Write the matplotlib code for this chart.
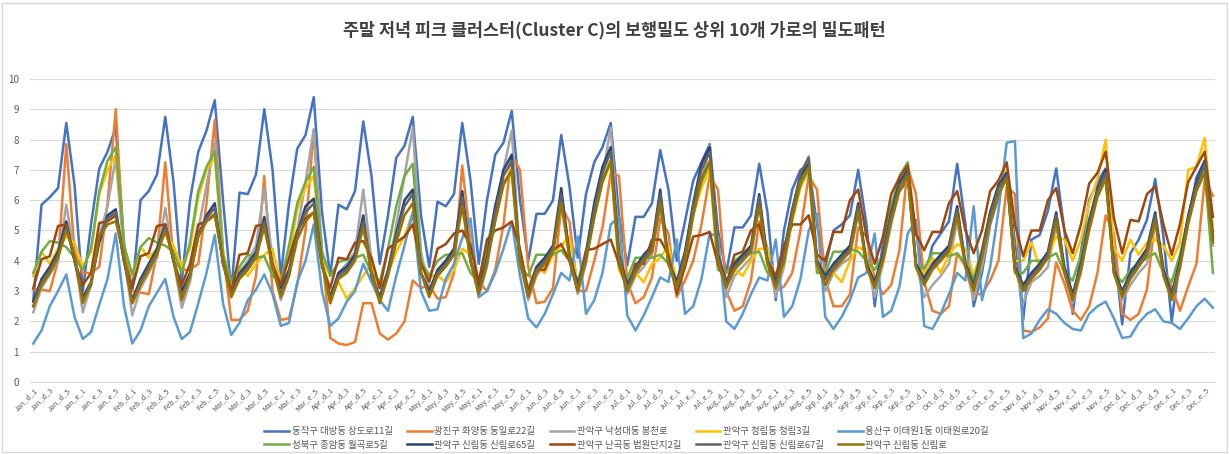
import matplotlib.pyplot as plt
from matplotlib.patches import Rectangle

plt.rcParams['font.family'] = ['Noto Sans CJK KR', 'DejaVu Sans']

# x categories: month _ d/e _ 1..6
months = ['Jan', 'Feb', 'Mar', 'Apr', 'May', 'Jun', 'Jul', 'Aug', 'Sep', 'Oct', 'Nov', 'Dec']
slots = ['d_1', 'd_2', 'd_3', 'd_4', 'd_5', 'd_6', 'e_1', 'e_2', 'e_3', 'e_4', 'e_5', 'e_6']
categories = [m + '_' + s for m in months for s in slots]

names = ['동작구 대방동 상도로11길', '광진구 화양동 동일로22길', '관악구 낙성대동 봉천로',
         '관악구 청림동 청림3길', '용산구 이태원1동 이태원로20길', '성북구 종암동 월곡로5길',
         '관악구 신림동 신림로65길', '관악구 난곡동 법원단지2길', '관악구 신림동 신림로67길',
         '관악구 신림동 신림로']
colors = ['#4472C4', '#ED7D31', '#A5A5A5', '#FFC000', '#5B9BD5',
          '#70AD47', '#264478', '#9E480E', '#636363', '#997300']

# one row per month (d_1..d_6, e_1..e_6)
sangdo = [
    2.7, 5.85, 6.1, 6.4, 8.55, 6.5, 3.0, 5.2, 7.05, 7.6, 8.4, 4.6,
    3.0, 6.0, 6.3, 6.85, 8.75, 6.6, 3.3, 6.0, 7.6, 8.3, 9.3, 6.0,
    3.0, 6.25, 6.2, 6.85, 9.0, 7.0, 3.5, 5.9, 7.7, 8.15, 9.4, 5.6,
    3.5, 5.85, 5.7, 6.3, 8.6, 6.8, 3.9, 5.5, 7.4, 7.8, 8.75, 5.5,
    3.8, 5.95, 5.8, 6.2, 8.55, 6.65, 3.9, 6.0, 7.5, 7.9, 8.95, 6.0,
    4.0, 5.55, 5.55, 6.0, 8.15, 6.45, 4.1, 6.2, 7.25, 7.75, 8.55, 5.5,
    3.85, 5.45, 5.45, 5.9, 7.65, 6.35, 4.0, 5.3, 6.65, 7.25, 7.85, 5.0,
    3.6, 5.1, 5.1, 5.5, 7.2, 5.6, 2.7, 5.0, 6.35, 7.0, 7.15, 5.2,
    3.8, 5.0, 5.2, 5.5, 7.0, 5.2, 2.5, 4.6, 5.8, 6.3, 6.65, 5.0,
    3.4, 4.5, 4.9, 5.3, 7.2, 5.2, 2.5, 3.6, 5.2, 6.1, 6.9, 4.6,
    2.05, 4.7, 4.85, 5.65, 7.05, 5.0, 2.25, 4.3, 6.0, 6.6, 7.05, 4.5,
    1.9, 4.25, 4.7, 5.35, 6.7, 4.8, 2.0, 4.0, 5.35, 6.75, 7.3, 5.0,
]
dongil = [
    3.05, 3.05, 3.0, 4.0, 7.85, 4.3, 3.6, 3.6, 3.8, 5.9, 9.0, 4.3,
    3.0, 2.95, 2.9, 4.25, 7.25, 4.0, 3.7, 3.7, 3.9, 5.9, 8.65, 4.3,
    2.05, 2.05, 2.35, 3.5, 6.8, 3.0, 2.05, 2.1, 3.2, 5.0, 8.3, 4.3,
    1.45, 1.27, 1.22, 1.32, 2.6, 2.6, 1.6, 1.4, 1.6, 2.0, 3.35, 3.1,
    3.2, 2.75, 2.8, 3.6, 7.15, 4.6, 3.3, 3.0, 3.7, 5.2, 7.5, 7.0,
    3.8, 2.6, 2.65, 3.1, 5.8, 5.3, 3.0, 3.0, 4.0, 5.1, 6.9, 6.8,
    3.3, 2.6, 2.8, 3.45, 5.4, 4.9, 2.8, 3.35, 4.0, 5.2, 6.8, 6.35,
    3.0, 2.35, 2.5, 3.35, 5.3, 4.4, 3.0, 3.15, 3.6, 5.0, 6.8, 6.35,
    3.4, 2.5, 2.5, 2.9, 5.1, 4.8, 3.4, 2.9, 3.2, 4.35, 7.1, 6.2,
    3.3, 2.35, 2.25, 2.5, 4.25, 3.8, 2.9, 2.9, 3.35, 4.0, 6.45, 6.2,
    1.7, 1.65, 1.8, 2.1, 3.95, 3.25, 2.35, 2.05, 2.5, 3.6, 5.5, 4.9,
    2.25, 2.05, 2.25, 3.05, 5.35, 3.7, 3.15, 2.35, 3.15, 3.9, 6.65, 6.15,
]
bongcheon = [
    2.3, 3.1, 3.55, 4.0, 5.85, 4.2, 2.3, 3.2, 4.8, 5.8, 7.4, 4.2,
    2.2, 3.1, 3.6, 4.1, 5.75, 4.0, 2.45, 3.3, 5.0, 6.5, 7.9, 4.3,
    2.8, 3.6, 4.0, 4.5, 6.4, 4.0, 2.7, 3.5, 5.0, 6.6, 8.35, 4.2,
    2.6, 3.6, 3.9, 4.3, 6.35, 4.0, 2.7, 3.6, 5.2, 6.8, 8.4, 4.3,
    2.9, 3.6, 4.0, 4.4, 6.2, 4.0, 2.8, 3.8, 5.7, 7.0, 8.3, 4.0,
    2.7, 3.5, 3.9, 4.3, 6.0, 4.2, 2.9, 3.9, 5.6, 6.8, 8.4, 4.5,
    2.9, 3.5, 3.8, 4.2, 5.8, 4.0, 3.0, 3.8, 5.5, 6.6, 7.8, 4.3,
    2.8, 3.5, 3.8, 4.1, 5.9, 4.2, 2.8, 3.8, 5.4, 6.7, 7.45, 4.1,
    3.0, 3.6, 3.9, 4.1, 5.6, 4.0, 2.8, 3.9, 5.2, 6.4, 7.0, 3.9,
    2.8, 3.2, 3.5, 3.9, 5.3, 3.8, 2.7, 3.8, 5.3, 6.2, 6.8, 3.9,
    2.6, 3.3, 3.5, 3.8, 5.2, 3.6, 2.6, 3.6, 5.2, 6.2, 6.8, 3.6,
    2.7, 3.2, 3.6, 3.9, 5.3, 3.8, 2.8, 3.7, 5.3, 6.4, 7.0, 4.5,
]
cheongrim = [
    3.5, 4.3, 3.9, 4.4, 4.8, 4.6, 3.8, 4.3, 6.2, 7.0, 7.5, 4.5,
    3.5, 4.45, 4.1, 4.4, 4.9, 4.5, 3.8, 4.4, 6.1, 7.0, 7.4, 4.3,
    3.2, 3.8, 3.5, 3.9, 4.2, 4.4, 3.3, 4.1, 5.7, 6.4, 6.8, 4.1,
    3.0, 3.3, 2.75, 3.1, 3.5, 3.9, 3.1, 3.6, 4.3, 4.8, 5.6, 4.0,
    3.5, 3.5, 3.3, 3.7, 4.4, 4.2, 3.3, 4.0, 5.6, 6.5, 7.1, 3.8,
    3.1, 3.8, 3.6, 4.2, 4.5, 4.8, 3.2, 4.0, 5.6, 6.6, 7.2, 3.7,
    3.2, 3.6, 3.3, 3.9, 4.1, 4.5, 3.3, 3.9, 5.5, 6.4, 7.0, 3.8,
    3.3, 3.7, 3.5, 4.0, 4.4, 4.4, 3.2, 3.9, 5.3, 6.4, 7.0, 3.8,
    3.45, 3.6, 3.3, 4.0, 4.45, 4.3, 3.2, 4.0, 5.4, 6.4, 7.0, 3.9,
    3.6, 4.1, 3.6, 4.2, 4.55, 4.4, 3.5, 4.4, 5.6, 6.4, 7.0, 4.0,
    4.0, 4.6, 3.8, 4.2, 4.8, 4.7, 4.0, 4.7, 5.9, 6.7, 8.0, 4.4,
    4.0, 4.7, 4.2, 4.6, 4.7, 4.5, 4.0, 4.6, 7.0, 7.1, 8.05, 5.0,
]
itaewon = [
    1.27, 1.7, 2.5, 3.0, 3.55, 2.15, 1.42, 1.65, 2.55, 3.4, 4.9, 2.5,
    1.27, 1.7, 2.5, 2.95, 3.4, 2.15, 1.42, 1.65, 2.6, 3.6, 4.85, 2.6,
    1.55, 1.95, 2.7, 3.05, 3.55, 2.9, 1.85, 1.95, 3.3, 4.0, 5.2, 3.0,
    1.85, 2.1, 2.65, 3.0, 3.9, 3.3, 2.7, 2.35, 3.5, 4.5, 5.6, 3.0,
    2.35, 2.4, 3.4, 3.9, 4.75, 5.4, 2.8, 3.0, 3.6, 4.4, 5.3, 3.5,
    2.1, 1.8, 2.25, 2.9, 3.6, 3.35, 4.8, 2.25, 2.7, 3.6, 5.2, 5.45,
    2.2, 1.7, 2.2, 2.8, 3.45, 3.3, 4.7, 2.25, 2.5, 3.4, 4.9, 4.8,
    2.0, 1.75, 2.25, 2.9, 3.45, 3.35, 4.7, 2.15, 2.5, 3.4, 5.0, 5.55,
    2.15, 1.75, 2.15, 2.7, 3.45, 3.6, 4.9, 2.15, 2.35, 3.15, 4.9, 5.35,
    1.85, 1.75, 2.25, 2.9, 3.6, 3.35, 5.8, 2.7, 3.8, 5.65, 7.9, 7.95,
    1.45, 1.6, 2.05, 2.4, 2.25, 1.95, 1.75, 1.7, 2.25, 2.5, 2.65, 2.1,
    1.45, 1.5, 1.95, 2.25, 2.4, 2.0, 1.95, 1.75, 2.1, 2.5, 2.75, 2.45,
]
wolgok = [
    3.6, 4.3, 4.65, 4.6, 4.45, 4.1, 3.7, 4.4, 6.3, 7.3, 7.75, 4.5,
    3.55, 4.45, 4.75, 4.6, 4.5, 4.3, 3.6, 4.6, 6.3, 7.1, 7.6, 4.2,
    3.3, 3.8, 4.2, 4.1, 4.15, 3.5, 3.3, 4.5, 5.9, 6.6, 7.1, 4.3,
    3.5, 3.95, 4.05, 4.1, 4.2, 3.6, 3.3, 4.4, 5.8, 6.8, 7.2, 4.0,
    3.5, 4.0, 4.2, 4.2, 4.25, 3.6, 3.3, 4.4, 5.8, 6.6, 6.9, 3.8,
    3.5, 4.2, 4.2, 4.2, 4.35, 4.0, 3.3, 4.3, 5.8, 6.7, 7.3, 3.8,
    3.4, 4.1, 4.1, 4.1, 4.2, 3.9, 3.3, 4.2, 5.7, 6.6, 7.2, 3.7,
    3.6, 4.0, 4.2, 4.25, 4.3, 3.6, 3.4, 3.9, 5.5, 6.5, 7.0, 3.6,
    3.6, 4.3, 4.3, 4.4, 4.3, 4.0, 3.7, 4.2, 5.8, 6.8, 7.25, 3.8,
    3.75, 4.25, 4.25, 4.15, 4.25, 3.9, 3.4, 4.3, 5.6, 6.5, 6.9, 3.6,
    3.6, 4.0, 4.0, 4.1, 4.25, 3.6, 3.35, 4.2, 5.4, 6.3, 6.8, 3.6,
    3.3, 3.7, 3.9, 4.1, 4.25, 3.6, 3.3, 4.2, 5.4, 6.4, 7.0, 3.6,
]
sillim65 = [
    2.65, 3.4, 3.8, 4.3, 5.3, 4.0, 2.8, 3.3, 4.6, 5.5, 5.7, 4.0,
    2.7, 3.4, 3.9, 4.4, 5.2, 4.0, 3.0, 3.6, 4.8, 5.5, 5.9, 3.9,
    3.0, 3.6, 3.9, 4.3, 5.45, 3.8, 3.1, 3.7, 4.9, 5.8, 6.05, 3.9,
    2.8, 3.6, 3.8, 4.2, 5.5, 3.5, 2.8, 3.7, 4.9, 6.0, 6.35, 3.6,
    3.0, 3.7, 4.0, 4.4, 6.3, 4.0, 3.1, 4.1, 5.8, 7.0, 7.5, 4.0,
    3.0, 3.8, 4.1, 4.5, 6.4, 4.2, 3.2, 4.2, 5.9, 7.1, 7.75, 4.2,
    3.2, 3.8, 4.2, 4.5, 6.35, 4.0, 3.3, 4.3, 5.9, 7.2, 7.75, 4.2,
    3.3, 3.9, 4.2, 4.5, 6.2, 4.0, 3.3, 4.3, 5.7, 6.8, 7.2, 4.0,
    3.5, 3.9, 4.2, 4.5, 5.9, 3.9, 3.3, 4.2, 5.6, 6.6, 7.0, 3.9,
    3.4, 3.9, 4.2, 4.5, 5.8, 3.9, 3.2, 4.3, 5.6, 6.5, 6.9, 3.8,
    3.2, 3.6, 3.9, 4.3, 5.6, 3.8, 2.9, 3.9, 5.3, 6.4, 7.0, 3.7,
    3.0, 3.6, 4.0, 4.4, 5.6, 3.7, 2.9, 4.0, 5.5, 6.6, 7.3, 4.8,
]
beobwon = [
    3.1, 4.05, 4.15, 5.15, 5.2, 4.0, 3.2, 3.6, 5.25, 5.3, 5.5, 4.0,
    3.1, 4.15, 4.25, 5.15, 5.2, 4.0, 3.2, 3.9, 5.2, 5.3, 5.55, 4.0,
    3.0, 4.2, 4.25, 5.15, 5.2, 3.9, 3.2, 4.1, 5.0, 5.4, 5.6, 3.8,
    3.1, 4.1, 4.05, 4.6, 4.65, 4.1, 3.1, 4.4, 4.6, 4.8, 5.2, 3.9,
    3.3, 4.4, 4.55, 4.9, 5.0, 4.5, 3.3, 4.7, 5.0, 5.1, 5.3, 4.4,
    3.0, 3.7, 3.7, 4.35, 4.55, 4.0, 3.0, 4.35, 4.4, 4.55, 4.7, 3.9,
    3.0, 3.9, 3.9, 4.7, 4.7, 4.2, 2.9, 3.8, 4.8, 4.85, 4.95, 3.9,
    3.2, 4.2, 4.3, 5.0, 5.2, 4.0, 3.5, 4.5, 5.2, 5.2, 5.5, 4.2,
    4.0, 4.95, 4.95, 6.0, 6.35, 4.8, 3.9, 4.8, 6.2, 6.75, 7.15, 4.9,
    4.35, 4.95, 4.95, 5.9, 6.3, 5.0, 4.25, 5.0, 6.3, 6.65, 7.25, 5.2,
    4.15, 5.0, 5.0, 6.0, 6.4, 5.0, 4.25, 5.2, 6.55, 6.9, 7.6, 5.4,
    4.25, 5.35, 5.3, 6.2, 6.45, 5.2, 4.2, 5.2, 6.6, 7.1, 7.6, 5.45,
]
sillim67 = [
    2.5, 3.3, 3.7, 4.2, 5.1, 4.1, 2.7, 3.2, 4.8, 5.4, 5.6, 4.0,
    2.6, 3.3, 3.8, 4.3, 5.1, 4.0, 2.8, 3.5, 4.9, 5.4, 5.75, 3.9,
    2.9, 3.5, 3.8, 4.2, 5.3, 3.8, 2.9, 3.6, 4.9, 5.6, 5.9, 3.9,
    2.7, 3.5, 3.7, 4.1, 5.3, 3.6, 2.7, 3.6, 4.8, 5.8, 6.2, 3.6,
    2.9, 3.6, 3.9, 4.3, 6.1, 4.0, 3.0, 4.0, 5.6, 6.8, 7.3, 4.0,
    2.9, 3.7, 4.0, 4.4, 6.2, 4.1, 3.1, 4.1, 5.7, 6.9, 7.6, 4.1,
    3.1, 3.7, 4.1, 4.4, 6.2, 3.9, 3.2, 4.2, 5.8, 7.0, 7.6, 4.1,
    3.2, 3.8, 4.1, 4.4, 6.1, 3.9, 3.2, 4.2, 5.6, 6.9, 7.4, 3.9,
    3.4, 3.8, 4.1, 4.4, 5.8, 3.8, 3.2, 4.1, 5.5, 6.5, 6.9, 3.8,
    3.3, 3.8, 4.1, 4.4, 5.7, 3.8, 3.1, 4.2, 5.5, 6.4, 6.8, 3.7,
    3.1, 3.5, 3.8, 4.2, 5.5, 3.7, 2.8, 3.8, 5.2, 6.3, 6.9, 3.6,
    2.9, 3.5, 3.9, 4.3, 5.5, 3.6, 2.8, 3.9, 5.4, 6.5, 7.2, 4.7,
]
sillimro = [
    2.5, 3.2, 3.6, 4.1, 5.0, 4.2, 2.6, 3.3, 4.8, 5.2, 5.3, 4.2,
    2.6, 3.2, 3.7, 4.2, 5.0, 4.1, 2.7, 3.5, 4.8, 5.3, 5.5, 4.0,
    2.8, 3.4, 3.7, 4.1, 5.1, 3.8, 2.8, 3.5, 4.7, 5.3, 5.6, 3.9,
    2.6, 3.4, 3.6, 4.0, 5.1, 3.6, 2.6, 3.5, 4.6, 5.5, 5.9, 3.6,
    2.8, 3.5, 3.8, 4.2, 5.8, 4.0, 2.9, 3.9, 5.3, 6.5, 7.0, 4.0,
    2.8, 3.6, 3.9, 4.3, 5.9, 4.1, 3.0, 4.0, 5.4, 6.6, 7.3, 4.1,
    3.0, 3.6, 4.0, 4.3, 5.9, 3.9, 3.1, 4.0, 5.5, 6.7, 7.3, 4.0,
    3.1, 3.7, 4.0, 4.3, 5.8, 3.9, 3.1, 4.0, 5.4, 6.6, 7.1, 3.9,
    3.2, 3.7, 4.0, 4.3, 5.6, 3.8, 3.1, 4.0, 5.3, 6.3, 6.8, 3.8,
    3.2, 3.7, 4.0, 4.3, 5.5, 3.8, 3.0, 4.1, 5.3, 6.2, 6.7, 3.7,
    3.0, 3.4, 3.7, 4.1, 5.3, 3.6, 2.7, 3.7, 5.0, 6.1, 6.7, 3.6,
    2.8, 3.4, 3.8, 4.2, 5.3, 3.5, 2.7, 3.8, 5.2, 6.3, 6.9, 4.6,
]

series = [sangdo, dongil, bongcheon, cheongrim, itaewon,
          wolgok, sillim65, beobwon, sillim67, sillimro]

fig = plt.figure(figsize=(12.29, 4.54), dpi=100)
fig.patches.append(Rectangle((0.002, 0.004), 0.996, 0.99, transform=fig.transFigure,
                             fill=False, edgecolor='#D9D9D9', linewidth=1))
ax = fig.add_axes([0.0244, 0.1586, 0.9642, 0.6674])

x = list(range(len(categories)))
lines = []
for vals, name, c in zip(series, names, colors):
    ln, = ax.plot(x, vals, color=c, linewidth=1.8, label=name)
    lines.append(ln)

ax.set_ylim(0, 10)
ax.set_xlim(-0.4, len(categories) - 0.75)
ax.set_yticks(range(0, 11))
ax.yaxis.grid(True, color='#D9D9D9', linewidth=0.8)
ax.set_axisbelow(True)
for s in ['top', 'right', 'left']:
    ax.spines[s].set_visible(False)
ax.spines['bottom'].set_color('#D9D9D9')
ax.tick_params(axis='y', length=0, labelsize=7, colors='#595959', pad=8)
ax.tick_params(axis='x', length=0, labelsize=5.3, colors='#595959', pad=3)
ax.set_xticks(x[::2])
ax.set_xticklabels(categories[::2], rotation=45, ha='right', rotation_mode='anchor')

fig.text(0.5, 0.934, '주말 저녁 피크 클러스터(Cluster C)의 보행밀도 상위 10개 가로의 밀도패턴',
         ha='center', va='center', fontsize=12.5, color='#404040', fontweight='bold')

# legend in row-major order (2 rows x 5 columns)
order = [0, 5, 1, 6, 2, 7, 3, 8, 4, 9]
fig.legend([lines[i] for i in order], [names[i] for i in order], ncol=5,
           loc='center', bbox_to_anchor=(0.51, 0.034), frameon=False,
           fontsize=6.8, labelcolor='#595959', handlelength=2.6, handletextpad=0.3,
           columnspacing=1.5, labelspacing=0.45, borderpad=0.1)

fig.savefig('out.png', dpi=100)
